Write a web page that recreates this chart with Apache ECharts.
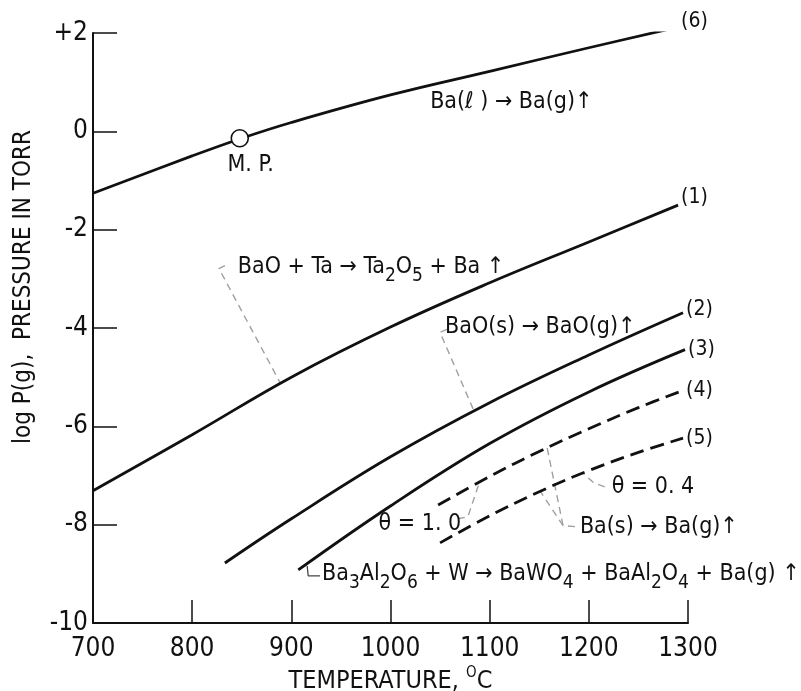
<!DOCTYPE html>
<html>
<head>
<meta charset="utf-8">
<style>
  html, body { margin: 0; padding: 0; background: #fff; }
  #main { width: 801px; height: 691px; }
</style>
<script src="https://cdn.jsdelivr.net/npm/echarts@6/dist/echarts.min.js"></script>
</head>
<body>
<div id="main"></div>
<script>
// temperatures (deg C) and log P(g)
var temps6 = [700, 800, 850, 900, 1000, 1100, 1200, 1290];
var logP6 = [-1.26, -0.5, -0.14, 0.18, 0.74, 1.22, 1.7, 2.12];
var temps1 = [700, 800, 900, 1000, 1100, 1200, 1290];
var logP1 = [-7.31, -6.17, -5.0, -3.98, -3.08, -2.25, -1.5];
var temps2 = [833, 900, 1000, 1100, 1200, 1295];
var logP2 = [-8.78, -7.88, -6.62, -5.52, -4.55, -3.69];
var temps3 = [907, 1000, 1100, 1200, 1297];
var logP3 = [-8.92, -7.62, -6.35, -5.3, -4.44];
var temps4 = [1048, 1100, 1150, 1200, 1250, 1295];
var logP4 = [-7.6, -7.02, -6.51, -6.05, -5.62, -5.27];
var temps5 = [1050, 1100, 1150, 1200, 1250, 1295];
var logP5 = [-8.37, -7.82, -7.33, -6.9, -6.53, -6.24];
var meltPoint = [848, -0.14];

// annotation leaders, in data units
var leaderBaOTa = [[833, -2.73], [827, -2.79], [888.6, -5.11]];
var leaderBaO = [[1057, -4.03], [1050, -4.09], [1084, -5.68]];
var leaderTheta1 = [[1068, -7.88], [1078, -7.84], [1090, -7.12]];
var leaderTheta04 = [[1216, -7.23], [1205, -7.15], [1194, -6.95]];
var leaderBaS4 = [[1186, -8.04], [1174, -8.02], [1158, -6.44]];
var leaderBaS5 = [[1174, -8.02], [1151, -7.32]];
var leaderBa3 = [[916, -8.84], [917, -9.04], [929, -9.04]];

var FONT = '"Liberation Sans Narrow", "DejaVu Sans Condensed", "Liberation Sans", sans-serif';
var INK = '#111';

function zip(xs, ys) {
  return xs.map(function (x, i) { return [x, ys[i]]; });
}

var rich = {
  s: { fontSize: 19, fontFamily: FONT, color: INK, padding: [18, 0, 0, 0] },
  u: { fontSize: 15, fontFamily: FONT, color: INK, padding: [0, 0, 16, 0] }
};

var notes = [
  { value: [1040, 0.59], text: 'Ba(ℓ ) → Ba(g)↑' },
  { value: [859, -0.69], text: 'M. P.', center: true },
  { value: [846, -2.77], text: 'BaO + Ta → Ta{s|2}O{s|5} + Ba ↑' },
  { value: [1055, -3.99], text: 'BaO(s) → BaO(g)↑' },
  { value: [988, -7.98], text: 'θ = 1. 0' },
  { value: [1223, -7.23], text: 'θ = 0. 4' },
  { value: [1191, -8.04], text: 'Ba(s) → Ba(g)↑' },
  { value: [931, -9.0], text: 'Ba{s|3}Al{s|2}O{s|6} + W → BaWO{s|4} + BaAl{s|2}O{s|4} + Ba(g) ↑' }
];

function curve(name, xs, ys, tag, dashed, off) {
  return {
    name: name,
    type: 'line',
    data: zip(xs, ys),
    smooth: 0.4,
    symbol: 'none',
    lineStyle: { color: INK, width: 2.8, type: dashed ? [14, 7] : 'solid' },
    endLabel: {
      show: true, formatter: tag, distance: 3, offset: off || [0, 0],
      fontSize: 21, fontFamily: FONT, color: INK
    },
    z: 3
  };
}

function leader(path, solid) {
  return {
    type: 'line',
    data: path,
    symbol: 'none',
    silent: true,
    lineStyle: solid ? { color: '#444', width: 1.3 } : { color: '#a0a0a0', width: 1.4, type: [7, 5] },
    z: 2
  };
}

var chart = echarts.init(document.getElementById('main'), null, { renderer: 'canvas' });

chart.setOption({
  animation: false,
  backgroundColor: '#fff',
  grid: { left: 93, right: 113, top: 33, bottom: 68, containLabel: false, outerBoundsMode: 'none' },
  xAxis: {
    type: 'value', min: 700, max: 1300, interval: 100,
    name: 'TEMPERATURE, {u|O}C',
    nameLocation: 'middle', nameGap: 43, nameMoveOverlap: false,
    nameTextStyle: { fontSize: 25, fontFamily: FONT, color: INK, rich: rich },
    axisLine: { show: true, onZero: false, lineStyle: { color: INK, width: 2 } },
    axisTick: { show: true, inside: true, length: 23, lineStyle: { color: INK, width: 1.5 } },
    axisLabel: {
      fontSize: 26, fontFamily: FONT, color: INK, margin: 13,
      formatter: function (v) { return String(v); }
    },
    splitLine: { show: false }
  },
  yAxis: {
    type: 'value', min: -10, max: 2, interval: 2,
    name: 'log P(g),  PRESSURE IN TORR',
    nameLocation: 'middle', nameRotate: 90, nameGap: 57, nameMoveOverlap: false,
    nameTextStyle: { fontSize: 24, fontFamily: FONT, color: INK, padding: [0, 0, 0, 82] },
    axisLine: { show: true, onZero: false, lineStyle: { color: INK, width: 2 } },
    axisTick: { show: true, inside: true, length: 24, lineStyle: { color: INK, width: 1.5 } },
    axisLabel: {
      fontSize: 26, fontFamily: FONT, color: INK, margin: 5,
      formatter: function (v) { return v > 0 ? '+' + v : (v < 0 ? '-' + Math.abs(v) : '0'); }
    },
    splitLine: { show: false }
  },
  series: [
    curve('6', temps6, logP6, '(6)', false, [0, -6]),
    curve('1', temps1, logP1, '(1)', false, [0, -8]),
    curve('2', temps2, logP2, '(2)', false, [0, -3]),
    curve('3', temps3, logP3, '(3)', false),
    curve('4', temps4, logP4, '(4)', true),
    curve('5', temps5, logP5, '(5)', true),
    leader(leaderBaOTa),
    leader(leaderBaO),
    leader(leaderTheta1),
    leader(leaderTheta04),
    leader(leaderBaS4),
    leader(leaderBaS5),
    leader(leaderBa3, true),
    {
      type: 'scatter',
      data: [meltPoint],
      symbol: 'circle',
      symbolSize: 17,
      itemStyle: { color: '#fff', borderColor: INK, borderWidth: 1.6, opacity: 1 },
      silent: true,
      z: 5
    },
    {
      type: 'scatter',
      symbolSize: 0,
      silent: true,
      itemStyle: { color: INK, opacity: 1 },
      data: notes.map(function (n) {
        return {
          value: n.value,
          label: {
            show: true,
            position: n.center ? 'inside' : 'right',
            distance: 0,
            formatter: n.text,
            fontSize: 23,
            fontFamily: FONT,
            color: INK,
            textBorderWidth: 0,
            rich: rich
          }
        };
      }),
      z: 6
    }
  ]
});
</script>
</body>
</html>
